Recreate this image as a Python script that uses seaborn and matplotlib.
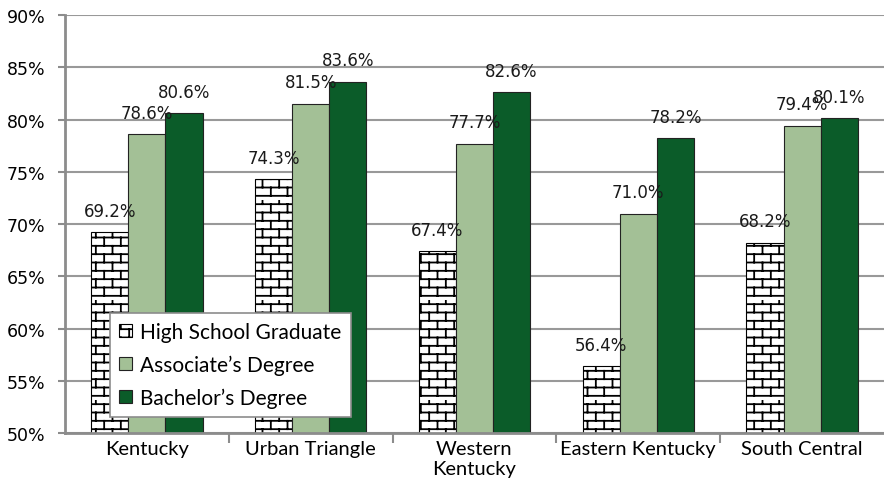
import warnings
import numpy as np
import matplotlib
matplotlib.use('Agg')
import matplotlib.pyplot as plt
from matplotlib import hatch as mhatch
from matplotlib.path import Path
from matplotlib.ticker import FuncFormatter
import seaborn as sns
import pandas as pd

warnings.filterwarnings('ignore')

regions = ['Kentucky', 'Urban Triangle', 'Western\nKentucky', 'Eastern Kentucky', 'South Central']
degrees = ['High School Graduate', 'Associate’s Degree', 'Bachelor’s Degree']
high_school = [69.2, 74.3, 67.4, 56.4, 68.2]
associate = [78.6, 81.5, 77.7, 71.0, 79.4]
bachelor = [80.6, 83.6, 82.6, 78.2, 80.1]
yticks = [50, 55, 60, 65, 70, 75, 80, 85, 90]

colors = ['white', '#a3c096', '#0b5c29']
gray = '#8c8c8c'


# brick pattern hatch, 'b' character
class BrickHatch(mhatch.HatchPatternBase):
    def __init__(self, hatch, density):
        self.rows = hatch.count('b') * density
        self.num_vertices = self.rows * 2 + self.rows * (self.rows // 2) * 2

    def set_vertices_and_codes(self, vertices, codes):
        n = self.rows
        if n == 0:
            return
        h = 0.5 / n
        verts = []
        for i in range(n):
            y0 = i / n + h
            y1 = (i + 1) / n + h
            verts += [(0, y0), (1, y0)]
            off = h if i % 2 == 0 else h + 1 / n
            for k in range(n // 2):
                x = k * 2 / n + off
                verts += [(x, y0), (x, y1)]
        vertices[:] = verts
        codes[0::2] = Path.MOVETO
        codes[1::2] = Path.LINETO

    get_vertices_and_codes = set_vertices_and_codes


mhatch._hatch_types.append(BrickHatch)

df = pd.DataFrame({
    'region': regions * 3,
    'degree': [degrees[0]] * 5 + [degrees[1]] * 5 + [degrees[2]] * 5,
    'value': high_school + associate + bachelor,
})

plt.rcParams['font.family'] = ['DejaVu Sans']
plt.rcParams['hatch.linewidth'] = 1.3

fig = plt.figure(figsize=(8.84, 5.02), dpi=100)
ax = fig.add_axes([0.0735, 0.1355, 0.9265, 0.8325])

sns.barplot(data=df, x='region', y='value', hue='degree', palette=colors,
            width=0.68, saturation=1, edgecolor='#222222', linewidth=0.8,
            ax=ax, legend=False)

for bar in ax.containers[0]:
    bar.set_facecolor('white')
    bar.set_edgecolor('black')
    bar.set_hatch('bb')

for cont in ax.containers:
    ax.bar_label(cont, labels=['{:.1f}%'.format(v) for v in cont.datavalues],
                 padding=9, fontsize=12, color='#1a1a1a')

ax.set_ylim(50, 90)
ax.set_xlim(-0.5, 4.5)
ax.set_yticks(yticks)
ax.yaxis.set_major_formatter(FuncFormatter(lambda v, p: '{:.0f}%'.format(v)))
ax.set_xlabel('')
ax.set_ylabel('')

ax.grid(axis='y', color='#999999', linewidth=1.5)
ax.set_axisbelow(True)
for s in ['top', 'right']:
    ax.spines[s].set_visible(False)
for s in ['left', 'bottom']:
    ax.spines[s].set_color(gray)
    ax.spines[s].set_linewidth(2)

ax.tick_params(axis='y', length=5, width=1.5, color=gray, labelsize=12.5, pad=9)
ax.tick_params(axis='x', length=0, pad=5)
ax.set_xticks([0.5, 1.5, 2.5, 3.5], minor=True)
ax.tick_params(axis='x', which='minor', length=7, width=1.5, color=gray)
for lab in ax.get_xticklabels():
    lab.set_family('Lato')
    lab.set_fontsize(14.5)
    lab.set_linespacing(1.25)

leg = ax.legend(ax.containers, degrees, loc='lower left',
                bbox_to_anchor=(0.055, 0.038), frameon=True, fancybox=False,
                edgecolor=gray, framealpha=1, prop={'family': 'Lato', 'size': 15},
                handlelength=0.6, handleheight=0.6, handletextpad=0.4,
                labelspacing=0.6, borderpad=0.45, borderaxespad=0)
leg.get_frame().set_linewidth(1.2)

fig.savefig('out.png', dpi=100)
